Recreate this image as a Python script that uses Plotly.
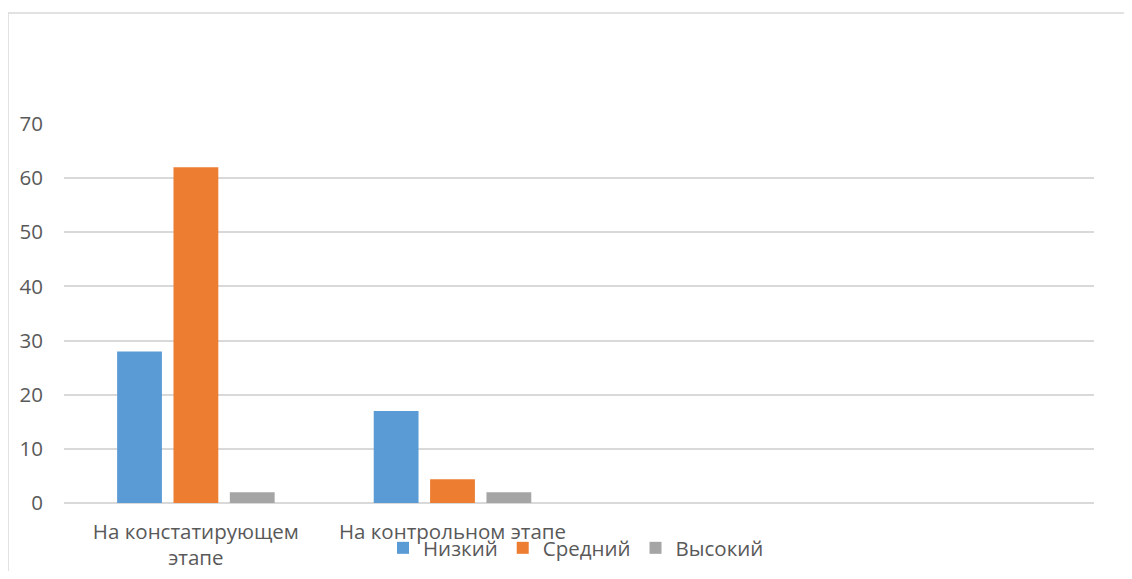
import plotly.graph_objects as go

categories = ["На констатирующем<br>этапе", "На контрольном этапе"]
series_names = ["Низкий", "Средний", "Высокий"]
low = [28, 17]
mid = [62, 4.4]
high = [2, 2]
y_ticks = [0, 10, 20, 30, 40, 50, 60, 70]

colors = ["#5B9BD5", "#ED7D31", "#A5A5A5"]
FONT = "Open Sans, Noto Sans, sans-serif"
TXT = "#595959"
FS = 20.5

# page body has an 8px margin; compensate so the picture lands where intended
OFF = 8
W, H = 1132 - 2 * OFF, 579 - 2 * OFF
L, R, T, B = 64 - OFF, 38 - OFF, 124 - OFF, 76 - OFF
ph = H - T - B
pw = W - L - R

fig = go.Figure()
for name, vals, col in zip(series_names, [low, mid, high], colors):
    fig.add_trace(go.Bar(x=categories, y=vals, name=name,
                         marker=dict(color=col, line=dict(width=0))))

fig.update_layout(
    width=W, height=H,
    margin=dict(l=L, r=R, t=T, b=B, autoexpand=False),
    paper_bgcolor="white", plot_bgcolor="white",
    font=dict(family=FONT, size=FS, color=TXT),
    barmode="group", bargap=0.341, bargroupgap=0.205,
    showlegend=True,
    legend=dict(orientation="h", x=0.5 - 3 / pw, xanchor="center",
                y=-((548 - OFF) - (H - B)) / ph, yanchor="middle",
                font=dict(family=FONT, size=FS, color=TXT),
                itemwidth=30, bgcolor="rgba(0,0,0,0)"),
    xaxis=dict(type="category", range=[-0.514, 3.5], showgrid=False,
               showline=False, ticks="", ticklabelstandoff=14,
               automargin=False,
               tickfont=dict(family=FONT, size=FS, color=TXT)),
    yaxis=dict(range=[0, 70], tickvals=y_ticks, showgrid=True,
               gridcolor="#d9d9d9", gridwidth=1.5, zeroline=True,
               zerolinecolor="#d9d9d9", zerolinewidth=1.5,
               showline=False, ticks="", ticklabelstandoff=20,
               automargin=False,
               tickfont=dict(family=FONT, size=FS, color=TXT)),
    shapes=[dict(type="rect", xref="paper", yref="paper",
                 x0=(8 - OFF - L) / pw, x1=1.2, y0=-0.5,
                 y1=(H - B - (13 - OFF)) / ph,
                 line=dict(color="#d9d9d9", width=1.5),
                 fillcolor="rgba(0,0,0,0)", layer="below")],
)

fig.write_html("out.html")
